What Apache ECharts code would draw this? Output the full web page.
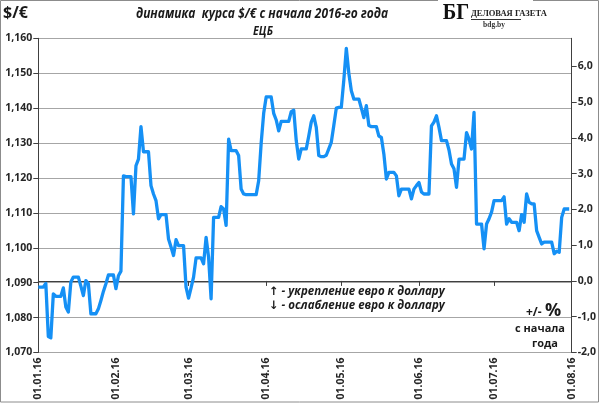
<!DOCTYPE html>
<html><head><meta charset="utf-8">
<script src="https://cdn.jsdelivr.net/npm/echarts@6/dist/echarts.min.js"></script>
<style>html,body{margin:0;padding:0;background:#fff}#c{width:600px;height:403px}</style>
</head><body><div id="c"></div>
<script>
// ECB USD/EUR rate, one value per calendar day from 01.01.2016 (weekends/holidays carry the last fix)
const jan = [1.0887,1.0887,1.0887,1.0898,1.0746,1.0742,1.0868,1.0861,1.0861,1.0861,
             1.0885,1.0830,1.0816,1.0902,1.0916,1.0916,1.0916,1.0890,1.0863,1.0906,
             1.0897,1.0811,1.0811,1.0811,1.0825,1.0849,1.0875,1.0897,1.0922,1.0922,
             1.0922];
const feb = [1.0883,1.0920,1.0933,1.1206,1.1204,1.1204,1.1204,1.1097,1.1235,1.1254,
             1.1347,1.1275,1.1275,1.1275,1.1178,1.1154,1.1135,1.1083,1.1095,1.1095,
             1.1095,1.1025,1.1002,1.0978,1.1023,1.1006,1.1006,1.1006,1.0887];
const mar = [1.0856,1.0885,1.0916,1.0971,1.0971,1.0971,1.0954,1.1030,1.0973,1.0854,
             1.1087,1.1087,1.1087,1.1118,1.1111,1.1064,1.1311,1.1278,1.1278,1.1278,
             1.1264,1.1168,1.1154,1.1152,1.1152,1.1152,1.1152,1.1152,1.1192,1.1300,
             1.1385];
const apr = [1.1432,1.1432,1.1432,1.1385,1.1366,1.1335,1.1362,1.1362,1.1362,1.1362,
             1.1390,1.1394,1.1307,1.1254,1.1283,1.1283,1.1283,1.1320,1.1360,1.1378,
             1.1345,1.1264,1.1261,1.1261,1.1265,1.1283,1.1302,1.1350,1.1400,1.1402];
const may = [1.1402,1.1480,1.1571,1.1500,1.1450,1.1426,1.1426,1.1426,1.1400,1.1373,
             1.1407,1.1350,1.1347,1.1347,1.1347,1.1320,1.1316,1.1268,1.1197,1.1216,
             1.1216,1.1216,1.1206,1.1149,1.1168,1.1168,1.1168,1.1168,1.1140,1.1168,
             1.1178];
const jun = [1.1187,1.1160,1.1154,1.1154,1.1154,1.1349,1.1360,1.1378,1.1345,1.1307,
             1.1307,1.1307,1.1280,1.1240,1.1226,1.1173,1.1254,1.1254,1.1254,1.1330,
             1.1311,1.1283,1.1388,1.1068,1.1068,1.1068,1.0997,1.1068,1.1083,1.1102];
const jul = [1.1135,1.1135,1.1135,1.1135,1.1146,1.1068,1.1083,1.1073,1.1073,1.1073,
             1.1049,1.1095,1.1073,1.1154,1.1130,1.1126,1.1126,1.1049,1.1030,1.1011,
             1.1016,1.1016,1.1016,1.1016,1.0983,1.0990,1.0987,1.1087,1.1111,1.1111,
             1.1111];
const dateTickLabels = ['01.01.16','01.02.16','01.03.16','01.04.16','01.05.16','01.06.16','01.07.16','01.08.16'];
const leftMin = 1.07, leftMax = 1.16, leftStep = 0.01;
const pctTicks = [-2, -1, 0, 1, 2, 3, 4, 5, 6];
const pctMin = -2, pctMax = 6.78;

const rates = [].concat(jan, feb, mar, apr, may, jun, jul);
function dayIndex(lbl) {
  const p = lbl.split('.').map(Number);
  return Math.round((Date.UTC(2000 + p[2], p[1] - 1, p[0]) - Date.UTC(2016, 0, 1)) / 86400000);
}
const tickDays = dateTickLabels.map(dayIndex);
const labelByDay = {};
dateTickLabels.forEach((l, i) => labelByDay[tickDays[i]] = l);
const seriesData = rates.map((v, i) => [i, v]);

const FONT = "'Open Sans', 'DejaVu Sans', sans-serif";
const chart = echarts.init(document.getElementById('c'), null, {renderer: 'canvas'});
chart.setOption({
  animation: false,
  backgroundColor: '#fff',
  textStyle: {fontFamily: FONT},
  grid: {left: 38.3, right: 28.3, top: 38.3, bottom: 50.5, containLabel: false},
  xAxis: {
    type: 'value', min: tickDays[0], max: tickDays[tickDays.length - 1],
    axisLine: {show: true, lineStyle: {color: '#404040', width: 1}},
    axisTick: {show: true, customValues: tickDays, length: 5, lineStyle: {color: '#404040'}},
    axisLabel: {customValues: tickDays, rotate: 90, margin: 5, formatter: v => labelByDay[v] || '',
      fontFamily: FONT, fontWeight: 'bold', fontSize: 10.5, color: '#262626'},
    splitLine: {show: false}
  },
  yAxis: [{
    type: 'value', position: 'left', min: leftMin, max: leftMax, interval: leftStep,
    axisLine: {show: true, lineStyle: {color: '#404040', width: 1}},
    axisTick: {show: true, length: 5, lineStyle: {color: '#404040'}},
    axisLabel: {margin: 6, formatter: v => v.toFixed(3).replace('.', ','),
      fontFamily: FONT, fontWeight: 'bold', fontSize: 10.5, color: '#262626'},
    splitLine: {show: true, lineStyle: {color: '#a6a6a6', width: 1}}
  }, {
    type: 'value', position: 'right', min: pctMin, max: pctMax, interval: 1,
    axisLine: {show: true, lineStyle: {color: '#404040', width: 1}},
    axisTick: {show: true, customValues: pctTicks, length: 5, lineStyle: {color: '#404040'}},
    axisLabel: {customValues: pctTicks, margin: 6, formatter: v => v.toFixed(1).replace('.', ','),
      fontFamily: FONT, fontWeight: 'bold', fontSize: 10.5, color: '#262626'},
    splitLine: {show: false}
  }],
  series: [{
    type: 'line', yAxisIndex: 0, data: seriesData, showSymbol: false, symbol: 'none',
    lineStyle: {color: '#1590F5', width: 3.3, join: 'round'}, z: 5
  }],
  graphic: [
    {type: 'rect', silent: true, z: 100, shape: {x: 0.5, y: 0.5, width: 598, height: 401.5},
     style: {fill: 'none', stroke: '#8c8c8c', lineWidth: 1}},
    {type: 'rect', silent: true, z: 101, shape: {x: 438, y: 0, width: 95, height: 30}, style: {fill: '#fff'}},
    {type: 'text', z: 102, style: {x: 3, y: 13, text: '$/€', textVerticalAlign: 'middle',
      font: "bold 16px " + FONT, fill: '#1a1a1a'}},
    {type: 'text', z: 102, x: 262, y: 14, scaleX: 0.8, style: {x: 0, y: 0, text: 'динамика  курса $/€ с начала 2016-го года',
      textAlign: 'center', textVerticalAlign: 'middle', font: "italic bold 15px " + FONT, fill: '#1a1a1a'}},
    {type: 'text', z: 102, x: 263, y: 31, scaleX: 0.85, style: {x: 0, y: 0, text: 'ЕЦБ', textAlign: 'center', textVerticalAlign: 'middle',
      font: "italic bold 12.5px " + FONT, fill: '#1a1a1a'}},
    {type: 'text', z: 102, x: 456, y: 13, scaleX: 0.85, style: {x: 0, y: 0, text: 'БГ', textAlign: 'center', textVerticalAlign: 'middle',
      font: "bold 24px 'Liberation Serif', serif", fill: '#111'}},
    {type: 'text', z: 102, style: {x: 471, y: 14, text: 'ДЕЛОВАЯ ГАЗЕТА', textAlign: 'left', textVerticalAlign: 'middle',
      font: "bold 8.5px 'Liberation Serif', serif", fill: '#222'}},
    {type: 'line', z: 102, shape: {x1: 471, y1: 19.5, x2: 521, y2: 19.5}, style: {stroke: '#333', lineWidth: 1}},
    {type: 'text', z: 102, style: {x: 494, y: 25, text: 'bdg.by', textAlign: 'center', textVerticalAlign: 'middle',
      font: "bold 7.5px 'Liberation Serif', serif", fill: '#333'}},
    {type: 'text', z: 102, style: {x: 269, y: 292, text: '↑ - укрепление евро к доллару', textVerticalAlign: 'middle',
      font: "italic bold 11.5px " + FONT, fill: '#1a1a1a'}},
    {type: 'text', z: 102, style: {x: 269, y: 306, text: '↓ - ослабление евро к доллару', textVerticalAlign: 'middle',
      font: "italic bold 11.5px " + FONT, fill: '#1a1a1a'}},
    {type: 'text', z: 102, style: {x: 526, y: 313, text: '+/-', textVerticalAlign: 'middle',
      font: "bold 12px " + FONT, fill: '#1a1a1a'}},
    {type: 'text', z: 102, style: {x: 545, y: 311, text: '%', textVerticalAlign: 'middle',
      font: "bold 18px " + FONT, fill: '#1a1a1a'}},
    {type: 'text', z: 102, style: {x: 540, y: 329, text: 'с начала', textAlign: 'center', textVerticalAlign: 'middle',
      font: "bold 11px " + FONT, fill: '#1a1a1a'}},
    {type: 'text', z: 102, style: {x: 545, y: 344, text: 'года', textAlign: 'center', textVerticalAlign: 'middle',
      font: "bold 11px " + FONT, fill: '#1a1a1a'}}
  ]
});
</script></body></html>
